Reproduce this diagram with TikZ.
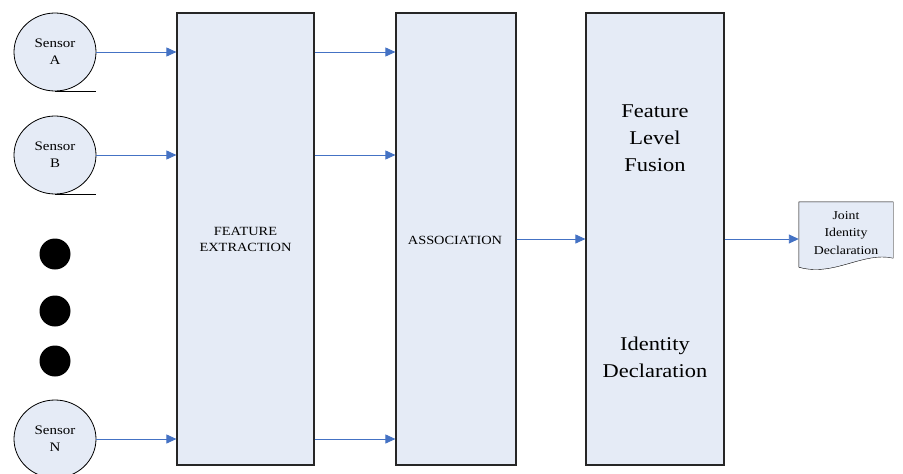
\documentclass[tikz,border=0pt]{standalone}
\usepackage{fontspec}
\setmainfont[FakeStretch=1.15]{Liberation Serif}
\usetikzlibrary{positioning, arrows.meta, shapes.geometric}
\definecolor{fuseblue}{HTML}{E5EBF6}
\definecolor{linkblue}{HTML}{4472C4}
\tikzstyle{sensor} = [ellipse, draw, line width=0.8pt, fill=fuseblue, minimum width=82pt, minimum height=78pt,
inner sep=0pt, align=center, font=\fontsize{13}{17}\selectfont]
\tikzstyle{dot} = [circle, fill=black, minimum size=31pt, inner sep=0pt]
\tikzstyle{tblock} = [rectangle, draw=black!85, line width=1.2pt, fill=fuseblue,
minimum height=452pt, align=center, font=\fontsize{12.5}{16}\selectfont]
\tikzstyle{arrow} = [draw=linkblue, line width=0.9pt, -{Triangle[length=10pt,width=9pt]}]

\begin{document}
\begin{tikzpicture}[x=1pt, y={(0pt,-1pt)}]
        \useasboundingbox (0,0) rectangle (903,474);
        % sensors and the dots between them
        \node (SensorA) [sensor] at (55,52) {Sensor\\A};
        \node (SensorB) [sensor] at (55,155) {Sensor\\B};
        \node (SensorN) [sensor] at (55,439) {Sensor\\N};
        \node (DotOne) [dot] at (55,254) {};
        \node (DotTwo) [dot] at (55,311) {};
        \node (DotThree) [dot] at (55,361) {};
        \draw[line width=0.8pt] (SensorA.south) -- (SensorA.south -| SensorA.east);
        \draw[line width=0.8pt] (SensorB.south) -- (SensorB.south -| SensorB.east);

        % processing stages
        \node (Extract) [tblock, minimum width=137pt] at (245.5,239) {};
        \node (Assoc) [tblock, minimum width=120pt] at (456,239) {};
        \node (Fuse) [tblock, minimum width=138pt] at (655,239) {};
        \node (ExtractText) at (245.5,239) [font=\fontsize{12.5}{16}\selectfont, align=center] {FEATURE\\EXTRACTION};
        \node (AssocText) at (455,240) [font=\fontsize{12.5}{16}\selectfont] {ASSOCIATION};
        \node (Fusion) at (655,138) [font=\fontsize{19.5}{27}\selectfont, align=center] {Feature\\Level\\Fusion};
        \node (Decl) at (655,357) [font=\fontsize{19.5}{27}\selectfont, align=center] {Identity\\Declaration};

        % output document with a wavy lower edge
        \node (Joint) [minimum width=94pt, minimum height=56pt, inner sep=0pt] at (846,230) {};
        \draw[fill=fuseblue] (Joint.north west) -- (Joint.north east) -- (Joint.south east)
            .. controls ([xshift=-30pt,yshift=7pt]Joint.south east) and ([xshift=35pt,yshift=-19pt]Joint.south west)
            .. ([yshift=-9pt]Joint.south west) -- cycle;
        \node (JointText) at (846,233) [font=\fontsize{12}{17.5}\selectfont, align=center] {Joint\\Identity\\Declaration};

        \draw [arrow] (SensorA.east) -- (SensorA.east -| Extract.west);
        \draw [arrow] (SensorB.east) -- (SensorB.east -| Extract.west);
        \draw [arrow] (SensorN.east) -- (SensorN.east -| Extract.west);
        \draw [arrow] (Extract.east |- SensorA) -- (Assoc.west |- SensorA);
        \draw [arrow] (Extract.east |- SensorB) -- (Assoc.west |- SensorB);
        \draw [arrow] (Extract.east |- SensorN) -- (Assoc.west |- SensorN);
        \draw [arrow] (Assoc.east) -- (Fuse.west);
        \draw [arrow] (Fuse.east) -- (Joint.west |- Fuse.east);
\end{tikzpicture}
\end{document}
